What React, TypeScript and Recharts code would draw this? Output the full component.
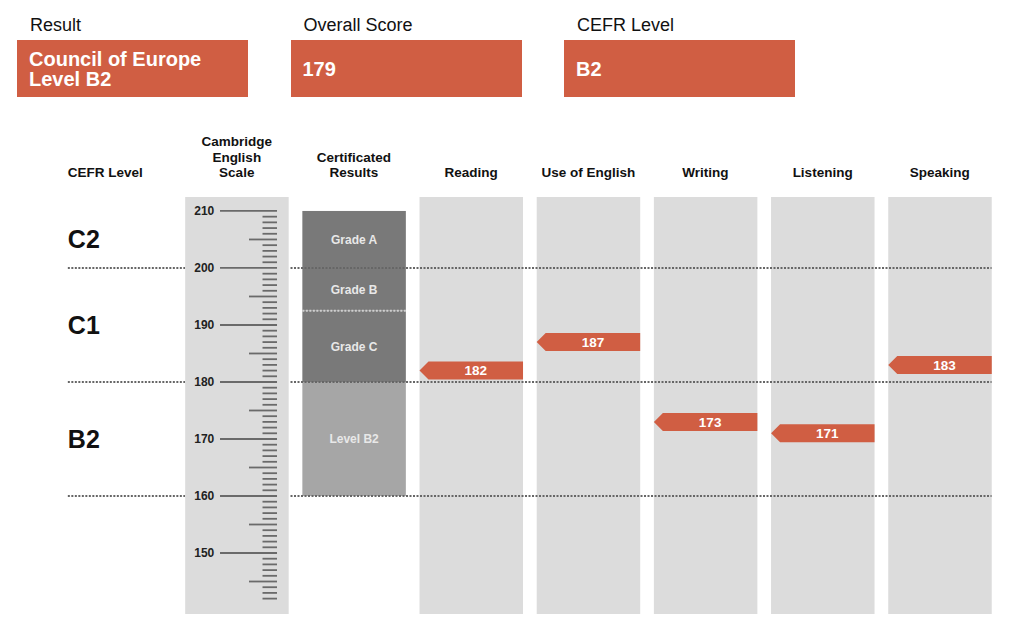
import { ComposedChart, Bar, XAxis, YAxis, ReferenceLine } from 'recharts';

// ---- data ----
const SUMMARY_TITLES = ['Result', 'Overall Score', 'CEFR Level'];
const SUMMARY_VALUES = [['Council of Europe', 'Level B2'], ['179'], ['B2']];

const COLUMNS = ['cefr', 'scale', 'cert', 'Reading', 'Use of English', 'Writing', 'Listening', 'Speaking'];
const HEADERS: Record<string, string[]> = {
  cefr: ['CEFR Level'],
  scale: ['Cambridge', 'English', 'Scale'],
  cert: ['Certificated', 'Results'],
  Reading: ['Reading'],
  'Use of English': ['Use of English'],
  Writing: ['Writing'],
  Listening: ['Listening'],
  Speaking: ['Speaking'],
};

const PAPERS = ['Reading', 'Use of English', 'Writing', 'Listening', 'Speaking'];
const PAPER_SCORES = [182, 187, 173, 171, 183];

const CEFR_LEVELS = ['C2', 'C1', 'B2'];
const CEFR_MIN = [200, 180, 160];
const CEFR_MAX = [210, 200, 180];

const CERT_LABELS = ['Grade A', 'Grade B', 'Grade C', 'Level B2'];
const CERT_MIN = [200, 192.5, 180, 160];
const CERT_MAX = [210, 200, 192.5, 180];

const SCALE_DOMAIN: [number, number] = [139.3, 212.45];
const RULER_FROM = 142;
const RULER_TO = 210;
const RULER_TICKS = Array.from({ length: RULER_TO - RULER_FROM + 1 }, (_, i) => RULER_FROM + i);

// ---- layout / style ----
const FONT = '"Liberation Sans", Arial, Helvetica, sans-serif';
const ORANGE = '#d05e43';
const COL_BG = '#dcdcdc';
const CHART_W = 1009;
const CHART_H = 629;
const MARGIN = { top: 137, right: 10.6, bottom: 15, left: 61 };
const BAND = (CHART_W - MARGIN.left - MARGIN.right) / COLUMNS.length;
const COL_W = 103.5;
const GAP = BAND - COL_W;
const SCALE_CX = MARGIN.left + BAND * 1.5;
const TAG_HALF = 1.58;
const CERT_FILL: Record<string, string> = {
  'Grade A': '#797979',
  'Grade B': '#797979',
  'Grade C': '#797979',
  'Level B2': '#a6a6a6',
};

const rows = COLUMNS.map((key) => {
  const p = PAPERS.indexOf(key);
  const row: any = {
    key,
    bg: p >= 0 || key === 'scale' ? SCALE_DOMAIN : null,
    score: p >= 0 ? PAPER_SCORES[p] : null,
    tag: p >= 0 ? [PAPER_SCORES[p] - TAG_HALF, PAPER_SCORES[p] + TAG_HALF] : null,
  };
  CERT_LABELS.forEach((_, i) => {
    row[`cert${i}`] = key === 'cert' ? [CERT_MIN[i], CERT_MAX[i]] : null;
  });
  return row;
});

function HeaderTick({ x, y, payload }: any) {
  const key = payload.value as string;
  const lines = HEADERS[key] || [];
  const first = key === 'cefr';
  const tx = first ? x - BAND / 2 + GAP / 2 : x;
  const base = y - 20;
  return (
    <text textAnchor={first ? 'start' : 'middle'} fontSize={13.5} fontWeight="bold" fill="#111" fontFamily={FONT}>
      {lines.map((l, i) => (
        <tspan key={i} x={tx} y={base - (lines.length - 1 - i) * 15.5}>{l}</tspan>
      ))}
    </text>
  );
}

// one ruler mark on the Cambridge English Scale column, placed by the y scale
const rulerShape = (v: number) => (p: any) => {
  const y = p.y1;
  const major = v % 10 === 0;
  const half = v % 5 === 0;
  const right = SCALE_CX + 40.25;
  const left = major ? SCALE_CX - 16.75 : half ? SCALE_CX + 12.25 : SCALE_CX + 25.75;
  return (
    <g>
      <line x1={left} x2={right} y1={y} y2={y} stroke="#6a6a6a" strokeWidth={1.8} />
      {major && (
        <text x={SCALE_CX - 22.5} y={y} dy="0.36em" textAnchor="end" fontSize={12} fontWeight="bold" fill="#222" fontFamily={FONT}>
          {v}
        </text>
      )}
    </g>
  );
};

// dotted CEFR boundary, interrupted by the scale column
const DottedLine = (p: any) => {
  const a = Math.min(p.x1, p.x2) + GAP / 2;
  const b = Math.max(p.x1, p.x2) - GAP / 2;
  const s0 = SCALE_CX - COL_W / 2;
  const s1 = SCALE_CX + COL_W / 2;
  const common = { stroke: '#666', strokeWidth: 2, strokeDasharray: '2 1.5' };
  return (
    <g>
      <line x1={a} x2={s0} y1={p.y1} y2={p.y1} {...common} />
      <line x1={s1 + 2} x2={b} y1={p.y1} y2={p.y1} {...common} />
    </g>
  );
};

const certShape = (i: number) => (p: any) => {
  const { x, y, width, height } = p;
  const label = CERT_LABELS[i];
  const divider = i > 0 && !CEFR_MIN.includes(CERT_MAX[i]);
  return (
    <g>
      <rect x={x} y={y} width={width} height={height} fill={CERT_FILL[label]} />
      {divider && (
        <line x1={x} x2={x + width} y1={y} y2={y} stroke="#cfcfcf" strokeWidth={2} strokeDasharray="2 1.5" />
      )}
      <text x={x + width / 2} y={y + height / 2} dy="0.36em" textAnchor="middle" fontSize={12} fontWeight="bold" fill="#e8e8e8" fontFamily={FONT}>
        {label}
      </text>
    </g>
  );
};

const TagShape = (p: any) => {
  const { x, y, width, height, payload } = p;
  if (payload.score == null) return null;
  const tip = 9;
  const pts = `${x},${y + height / 2} ${x + tip},${y} ${x + width},${y} ${x + width},${y + height} ${x + tip},${y + height}`;
  return (
    <g>
      <polygon points={pts} fill={ORANGE} />
      <text x={x + tip + (width - tip) / 2} y={y + height / 2} dy="0.36em" textAnchor="middle" fontSize={13.5} fontWeight="bold" fill="#fff" fontFamily={FONT}>
        {payload.score}
      </text>
    </g>
  );
};

function Summary() {
  return (
    <>
      {SUMMARY_TITLES.map((t, i) => {
        const left = 17 + i * 273.5;
        return (
          <div key={t}>
            <div style={{ position: 'absolute', left: left + 13, top: 14, fontSize: 18, lineHeight: '22px', color: '#111' }}>{t}</div>
            <div
              style={{
                position: 'absolute', left, top: 40, width: 231, height: 57, background: ORANGE,
                display: 'flex', flexDirection: 'column', justifyContent: 'center', paddingLeft: 12, boxSizing: 'border-box',
                color: '#fff', fontWeight: 'bold', fontSize: 20, lineHeight: '20px',
              }}
            >
              {SUMMARY_VALUES[i].map((l) => <div key={l}>{l}</div>)}
            </div>
          </div>
        );
      })}
    </>
  );
}

export default function App() {
  return (
    <div style={{ position: 'absolute', left: 0, top: 0, width: CHART_W, height: CHART_H, fontFamily: FONT, background: '#fff' }}>
      <Summary />
      <ComposedChart width={CHART_W} height={CHART_H} data={rows} margin={MARGIN}>
        <XAxis xAxisId="head" dataKey="key" orientation="top" height={60} axisLine={false} tickLine={false}
          tickSize={0} tickMargin={0} interval={0} tick={<HeaderTick />} />
        <XAxis xAxisId="tg" dataKey="key" hide />
        {CERT_LABELS.map((_, i) => <XAxis key={i} xAxisId={`c${i}`} dataKey="key" hide />)}
        <YAxis domain={SCALE_DOMAIN} allowDataOverflow hide />

        <Bar xAxisId="head" dataKey="bg" fill={COL_BG} barSize={COL_W} isAnimationActive={false} />
        {CERT_LABELS.map((_, i) => (
          <Bar key={i} xAxisId={`c${i}`} dataKey={`cert${i}`} barSize={COL_W} shape={certShape(i)} isAnimationActive={false} />
        ))}

        {CEFR_MIN.map((v) => (
          <ReferenceLine key={v} xAxisId="head" y={v} shape={DottedLine} />
        ))}
        {RULER_TICKS.map((v) => (
          <ReferenceLine key={`r${v}`} xAxisId="head" y={v} shape={rulerShape(v)} />
        ))}
        {CEFR_LEVELS.map((lvl, i) => (
          <ReferenceLine key={lvl} xAxisId="head" y={(CEFR_MIN[i] + CEFR_MAX[i]) / 2} stroke="transparent"
            label={{ value: lvl, position: 'insideLeft', offset: GAP / 2, fontSize: 25, fontWeight: 'bold', fill: '#111' }} />
        ))}

        <Bar xAxisId="tg" dataKey="tag" barSize={COL_W} shape={TagShape} isAnimationActive={false} />
      </ComposedChart>
    </div>
  );
}
